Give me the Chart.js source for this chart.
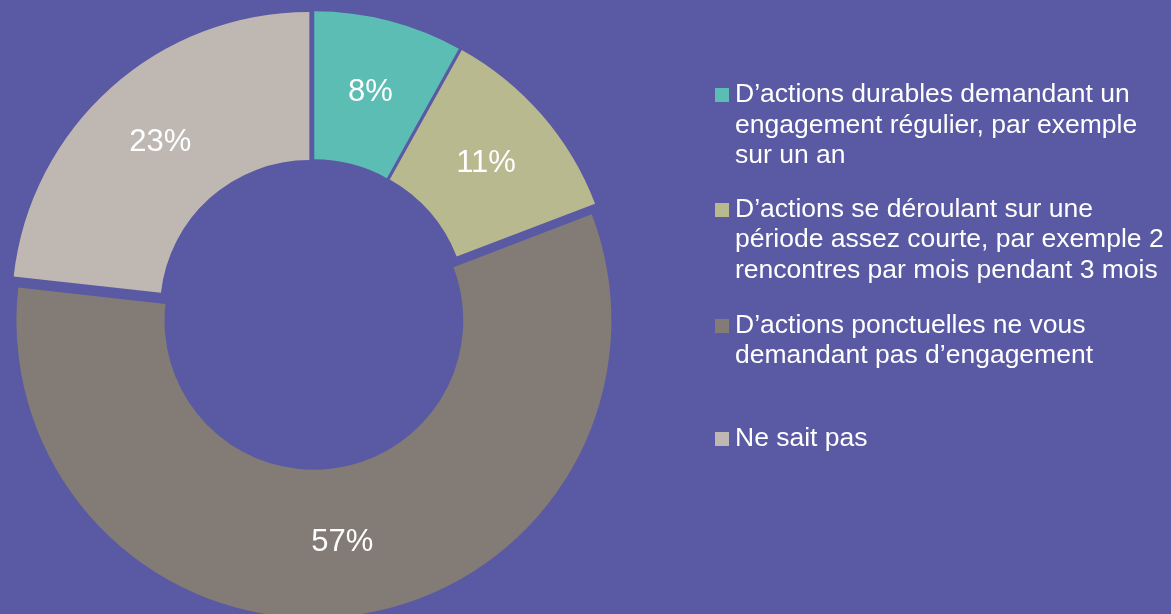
<!DOCTYPE html>
<html>
<head>
<meta charset="utf-8">
<script src="https://cdn.jsdelivr.net/npm/chart.js@4"></script>
<style>
  html, body { margin: 0; padding: 0; }
  body { width: 1171px; height: 614px; overflow: hidden; background: #5A59A3; position: relative;
         font-family: "Liberation Sans", Arial, sans-serif; }
  #wrap { position: absolute; left: 0; top: 0; width: 1171px; height: 614px; }
  .item { position: absolute; left: 715px; color: #fff; font-size: 26.5px; line-height: 30.5px; }
  .sw { position: absolute; left: 0; width: 14px; height: 14px; }
  .txt { position: absolute; left: 20px; white-space: nowrap; }
</style>
</head>
<body>
<div id="wrap"><canvas id="c"></canvas></div>
<div id="legend"></div>
<script>
// ---- data ----
const categories = [
  ["D\u2019actions durables demandant un", "engagement régulier, par exemple", "sur un an"],
  ["D\u2019actions se déroulant sur une", "période assez courte, par exemple 2", "rencontres par mois pendant 3 mois"],
  ["D\u2019actions ponctuelles ne vous", "demandant pas d\u2019engagement"],
  ["Ne sait pas"]
];
const values = [8, 11, 57, 23];
const colors = ["#5CBDB5", "#B8B98F", "#837B75", "#BFB8B2"];

// ---- layout / style ----
const legendBaselines = [102.5, 217, 333, 446];
const explode = [5, 5.5, 7, 5.5];   // px each slice is pulled out of the ring

// legend (HTML text)
const legend = document.getElementById('legend');
categories.forEach((lines, i) => {
  const it = document.createElement('div');
  it.className = 'item';
  it.style.top = (legendBaselines[i] - 24.4) + 'px';
  const sw = document.createElement('div');
  sw.className = 'sw';
  sw.style.background = colors[i];
  sw.style.top = (24.4 - 14) + 'px';
  const tx = document.createElement('div');
  tx.className = 'txt';
  tx.innerHTML = lines.join('<br>');
  it.appendChild(sw);
  it.appendChild(tx);
  legend.appendChild(it);
});

// draw the library's arc elements, each translated outward along its bisector
const explodePlugin = {
  id: 'explode',
  beforeDatasetDraw(chart, args) {
    const ctx = chart.ctx;
    args.meta.data.forEach((arc, i) => {
      const p = arc.getProps(['startAngle', 'endAngle'], true);
      const a = (p.startAngle + p.endAngle) / 2;
      ctx.save();
      ctx.translate(Math.cos(a) * explode[i], Math.sin(a) * explode[i]);
      arc.draw(ctx);
      ctx.restore();
    });
    return false;
  }
};

const labelPlugin = {
  id: 'pctLabels',
  afterDatasetsDraw(chart) {
    const ctx = chart.ctx;
    const meta = chart.getDatasetMeta(0);
    ctx.save();
    ctx.fillStyle = '#ffffff';
    ctx.font = '31px "Liberation Sans", Arial, sans-serif';
    ctx.textAlign = 'center';
    ctx.textBaseline = 'middle';
    meta.data.forEach((arc, i) => {
      const p = arc.getProps(['x', 'y', 'startAngle', 'endAngle', 'innerRadius', 'outerRadius'], true);
      const a = (p.startAngle + p.endAngle) / 2;
      const r = (p.innerRadius + p.outerRadius) / 2 + explode[i];
      ctx.fillText(values[i] + '%', p.x + Math.cos(a) * r, p.y + Math.sin(a) * r);
    });
    ctx.restore();
  }
};

new Chart(document.getElementById('c'), {
  type: 'doughnut',
  data: {
    labels: categories.map(l => l.join(' ')),
    datasets: [{
      data: values,
      backgroundColor: colors,
      borderWidth: 0,
      offset: 0
    }]
  },
  options: {
    responsive: true,
    maintainAspectRatio: false,
    animation: false,
    radius: 297.5,
    cutout: '50.2%',
    layout: { padding: { left: 0, right: 545, top: 13, bottom: 0 } },
    plugins: { legend: { display: false }, tooltip: { enabled: false } },
    events: []
  },
  plugins: [explodePlugin, labelPlugin]
});
</script>
</body>
</html>
